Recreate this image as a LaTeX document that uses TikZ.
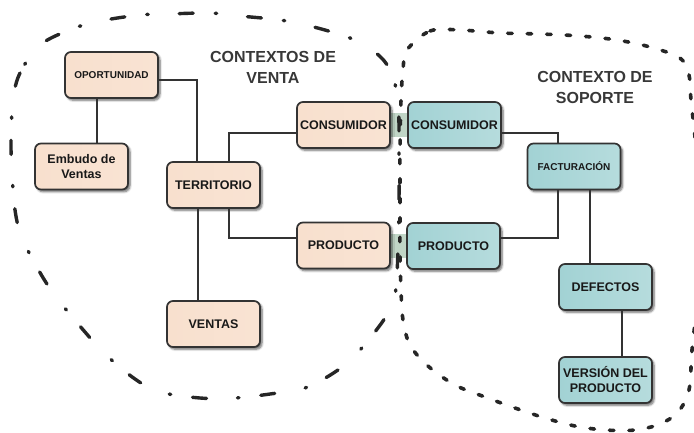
\documentclass[tikz,border=0pt]{standalone}
\usepackage{fontspec}
\setmainfont{Liberation Sans}
\usetikzlibrary{calc,shadows.blur,backgrounds}

\definecolor{edgegray}{HTML}{333333}
\definecolor{peachL}{HTML}{F8E0CE}
\definecolor{peachM}{HTML}{FDF3EC}
\definecolor{peachR}{HTML}{F9E3D3}
\definecolor{tealL}{HTML}{A2D2D4}
\definecolor{tealM}{HTML}{DFF2F2}
\definecolor{tealR}{HTML}{B6DCDD}
\definecolor{bridge}{HTML}{C0D5C6}
\definecolor{titlegray}{HTML}{383838}

\tikzset{
  box/.style={draw=edgegray, line width=1.7pt, rounded corners=6pt,
    minimum width=93pt, minimum height=46pt, inner sep=0pt, align=center,
    text=black!90, font=\bfseries\fontsize{12.5}{15}\selectfont,
    blur shadow={shadow xshift=2pt, shadow yshift=-2.2pt, shadow opacity=60, shadow blur steps=6}},
  salesbox/.style={box, left color=peachL, middle color=peachM, right color=peachR},
  supportbox/.style={box, left color=tealL, middle color=tealM, right color=tealR},
  smalltext/.style={font=\bfseries\fontsize{10}{12}\selectfont},
  link/.style={draw=edgegray, line width=1.4pt},
  title/.style={text=titlegray, align=center, font=\bfseries\fontsize{16}{21}\selectfont},
  salesfence/.style={line width=3.4pt, line cap=round, black!85,
    dash pattern=on 14pt off 31pt on 1.5pt off 22pt},
  supportfence/.style={line width=3.6pt, line cap=round, black!85,
    dash pattern=on 4.5pt off 15pt}
}

\begin{document}
\begin{tikzpicture}[x=1pt, y=-1pt]
\useasboundingbox (0,0) rectangle (694,432);

% sales context
\node[salesbox, smalltext] (oport) at (111.5,75) {OPORTUNIDAD};
\node[salesbox] (embudo) at (81.5,166.5) {Embudo de\\Ventas};
\node[salesbox] (terr) at (213.5,185) {TERRITORIO};
\node[salesbox] (ventas) at (213.5,324) {VENTAS};
\node[salesbox] (consL) at (343.5,125) {CONSUMIDOR};
\node[salesbox] (prodL) at (343.5,245.5) {PRODUCTO};

% support context
\node[supportbox] (consR) at (454.5,125) {CONSUMIDOR};
\node[supportbox] (prodR) at (453.5,246) {PRODUCTO};
\node[supportbox, smalltext] (fact) at (574,166.5) {FACTURACIÓN};
\node[supportbox] (defect) at (605.5,287) {DEFECTOS};
\node[supportbox] (version) at (605.5,380) {VERSIÓN DEL\\PRODUCTO};

% shared-model bridges
\begin{scope}[on background layer]
  \fill[bridge] ([yshift=12pt]consL.east) rectangle ([yshift=-12pt]consR.west);
  \fill[bridge] ([yshift=12pt]prodL.east) rectangle ([yshift=-12pt]prodR.west);
\end{scope}

% relations
\draw[link] ([yshift=-5pt]oport.east) -| ([xshift=-16.5pt]terr.north);
\draw[link] ([xshift=-14.5pt]oport.south) -- ([xshift=-14.5pt]oport.south |- embudo.north);
\draw[link] ([xshift=15.5pt]terr.north) |- ([yshift=-8pt]consL.west);
\draw[link] ([xshift=15.5pt]terr.south) |- ([yshift=7.5pt]prodL.west);
\draw[link] ([xshift=-15.5pt]terr.south) -- ([xshift=-15.5pt]terr.south |- ventas.north);
\draw[link] ([yshift=-8pt]consR.east) -| ([xshift=-16pt]fact.north);
\draw[link] ([xshift=-16pt]fact.south) |- ([yshift=8pt]prodR.east);
\draw[link] ([xshift=16pt]fact.south) -- ([xshift=16pt]fact.south |- defect.north);
\draw[link] ([xshift=16.5pt]defect.south) -- ([xshift=16.5pt]defect.south |- version.north);

% titles
\node[title] (tsales) at (273,67.5) {CONTEXTOS DE\\VENTA};
\node[title] (tsupport) at (595,87.5) {CONTEXTO DE\\SOPORTE};

% context boundaries
\draw[salesfence] plot[smooth cycle, tension=0.55] coordinates {
  (40,45) (20,73) (13,100) (11,140) (12,173) (15,210) (22,238) (42,276)
  (60,302) (85,332) (105,354) (135,379) (160,392) (200,398) (235,398)
  (270,394) (305,388) (338,370) (360,350) (385,318) (395,295) (398,250)
  (399,200) (399,150) (398,100) (390,70) (376,53) (350,38) (310,26)
  (280,20) (240,16) (210,13) (168,14) (140,15) (100,21) (72,29)};
\draw[supportfence] plot[smooth cycle, tension=0.55] coordinates {
  (407,50) (430,31) (460,30) (500,33) (540,34) (580,36) (617,40) (650,47)
  (680,58) (689,75) (691,100) (697,160) (699,230) (697,300) (692,350)
  (689,390) (678,412) (660,424) (635,430) (605,430) (575,426) (545,418)
  (515,408) (485,397) (455,385) (428,366) (410,345) (403,320) (401,290)
  (400,250) (400,200) (400,150) (401,100) (403,70)};
\end{tikzpicture}
\end{document}
